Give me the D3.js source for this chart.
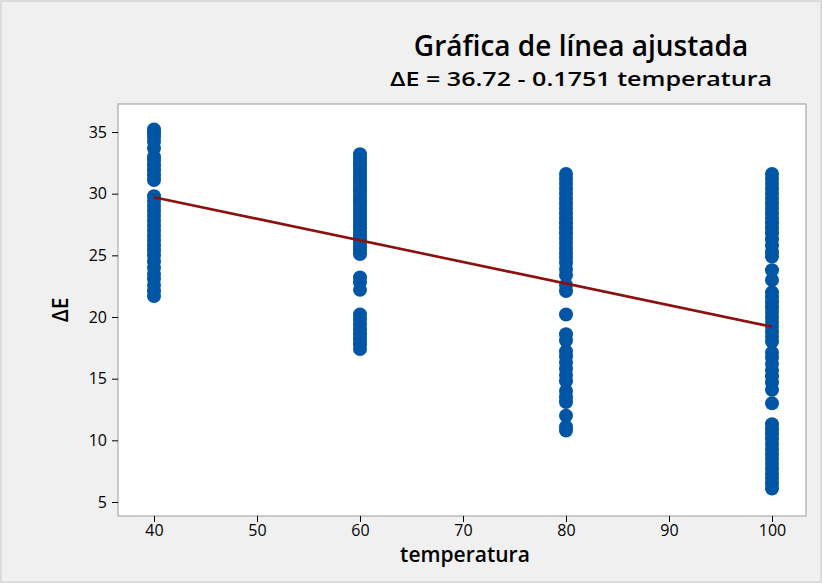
<!DOCTYPE html><html><head><meta charset="utf-8"><script src="https://cdn.jsdelivr.net/npm/d3@7"></script>
<style>body{margin:0;background:#fff}svg{font-family:"Open Sans",sans-serif}</style></head><body><svg id="c" width="822" height="583"></svg>
<script>
const temps=[40,60,80,100];
const dE40=[35.2,34.9,34.6,34.2,33.7,33.0,32.7,32.3,31.9,31.5,31.1,29.8,29.4,29.0,28.6,28.2,27.8,27.4,27.0,26.6,26.2,25.8,25.4,25.0,24.5,24.0,23.5,23.1,22.6,22.1,21.7];
const dE60=[33.2,32.9,32.6,32.3,32.0,31.7,31.4,31.1,30.8,30.5,30.2,29.9,29.6,29.3,29.0,28.7,28.4,28.1,27.8,27.5,27.2,26.9,26.6,26.3,26.0,25.7,25.4,25.1,23.2,22.8,22.2,20.2,19.8,19.4,19.0,18.6,18.2,17.8,17.4];
const dE80=[31.6,31.2,30.8,30.4,30.0,29.6,29.2,28.8,28.4,28.0,27.6,27.2,26.8,26.4,26.0,25.6,25.2,24.8,24.4,23.9,23.4,22.6,22.1,20.2,18.6,18.1,17.2,16.8,16.3,15.8,15.3,14.8,14.0,13.5,13.1,12.0,11.1,10.8];
const dE100=[31.6,31.2,30.8,30.4,30.0,29.6,29.2,28.8,28.4,28.0,27.6,27.2,26.8,26.3,25.8,25.3,24.9,23.8,23.0,22.0,21.6,21.2,20.8,20.4,20.0,19.6,19.2,18.8,18.4,18.0,17.1,16.7,16.2,15.7,15.2,14.7,14.1,13.0,11.3,10.9,10.5,10.1,9.7,9.3,8.9,8.5,8.1,7.7,7.3,6.9,6.5,6.1];
const series=[dE40,dE60,dE80,dE100];
const xTicks=[40,50,60,70,80,90,100], yTicks=[5,10,15,20,25,30,35];
const b0=36.72,b1=-0.1751;
const svg=d3.select("#c");
svg.append("rect").attr("width",822).attr("height",583).attr("fill","#f0f0f0");
svg.append("rect").attr("x",1).attr("y",1).attr("width",820).attr("height",581).attr("fill","none").attr("stroke","#c8c8c8");
const L=118,R=806,T=104,B=516;
svg.append("rect").attr("x",L).attr("y",T).attr("width",R-L).attr("height",B-T).attr("fill","#fff").attr("stroke","#999");
const x=d3.scaleLinear().domain([40,100]).range([154,772]);
const y=d3.scaleLinear().domain([5,35]).range([502,132]);
const ax=svg.append("g").attr("transform",`translate(0,${B})`).call(d3.axisBottom(x).tickValues(xTicks).tickSize(6).tickSizeOuter(0));
const ay=svg.append("g").attr("transform",`translate(${L},0)`).call(d3.axisLeft(y).tickValues(yTicks).tickSize(6).tickSizeOuter(0));
[ax,ay].forEach(a=>{a.select(".domain").remove();a.selectAll("text").attr("font-size",16).attr("fill","#000").attr("font-family","Open Sans");a.selectAll("line").attr("stroke","#000");});
ay.selectAll("text").attr("dx",-2);
const pts=[];series.forEach((s,i)=>s.forEach(v=>pts.push([temps[i],v])));
svg.append("g").selectAll("circle").data(pts).join("circle").attr("cx",d=>x(d[0])).attr("cy",d=>y(d[1])).attr("r",7).attr("fill","#0055a5");
svg.append("line").attr("x1",x(40)).attr("x2",x(100)).attr("y1",y(b0+b1*40)).attr("y2",y(b0+b1*100)).attr("stroke","#8b1111").attr("stroke-width",2.6);
svg.append("text").attr("x",581).attr("y",56).attr("text-anchor","middle").attr("font-size",28).attr("font-weight","600").text("Gráfica de línea ajustada");
svg.append("text").attr("x",390).attr("y",86).attr("font-size",19).attr("font-weight","600").attr("textLength",382).attr("lengthAdjust","spacingAndGlyphs").text("ΔE = 36.72 - 0.1751 temperatura");
svg.append("text").attr("x",465).attr("y",562).attr("text-anchor","middle").attr("font-size",21).attr("font-weight","600").text("temperatura");
svg.append("text").attr("transform","translate(68,310) rotate(-90)").attr("text-anchor","middle").attr("font-size",21).attr("font-weight","600").text("ΔE");
</script></body></html>
